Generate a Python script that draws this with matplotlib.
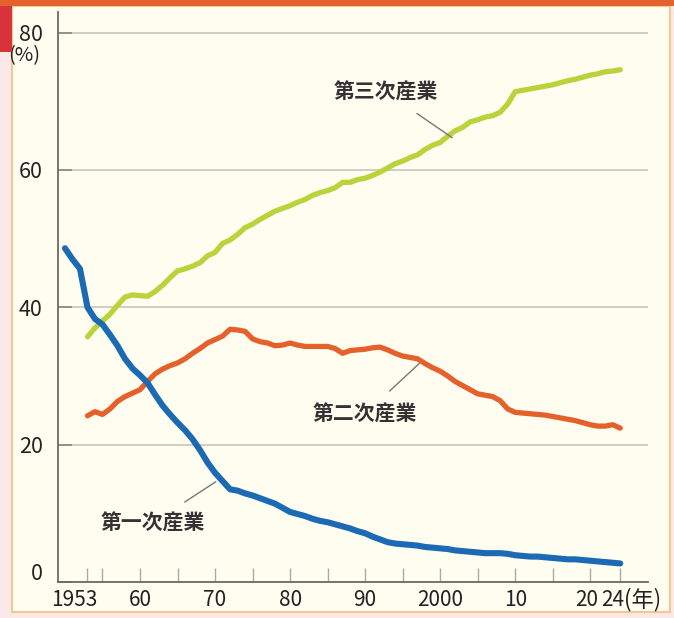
import matplotlib
matplotlib.use("Agg")
import matplotlib.pyplot as plt
import matplotlib.transforms as mtransforms
from matplotlib.patches import Rectangle

plt.rcParams['font.family'] = ['Noto Sans CJK JP', 'DejaVu Sans']

# 第一次産業 (starts 1950)
years_primary = list(range(1950, 2025))
primary = [48.6, 47.0, 45.6, 40.0, 38.3, 37.5, 36.0, 34.4, 32.5, 31.1,
           30.1, 29.0, 27.3, 25.7, 24.4, 23.2, 22.1, 20.8, 19.2, 17.4,
           15.9, 14.7, 13.5, 13.3, 12.9, 12.6, 12.2, 11.8, 11.4, 10.8,
           10.2, 9.9, 9.6, 9.2, 8.9, 8.7, 8.4, 8.1, 7.8, 7.4,
           7.1, 6.6, 6.2, 5.8, 5.6, 5.5, 5.4, 5.3, 5.1, 5.0,
           4.9, 4.8, 4.6, 4.5, 4.4, 4.3, 4.2, 4.2, 4.2, 4.1,
           3.9, 3.8, 3.7, 3.7, 3.6, 3.5, 3.4, 3.3, 3.3, 3.2,
           3.1, 3.0, 2.9, 2.8, 2.7]

years = list(range(1953, 2025))
# 第二次産業
secondary = [24.2, 24.8, 24.4, 25.2, 26.3, 27.0, 27.5,
             28.0, 29.2, 30.3, 31.0, 31.5, 31.9, 32.5, 33.3, 34.0, 34.8,
             35.3, 35.8, 36.8, 36.7, 36.5, 35.4, 35.0, 34.8, 34.4, 34.5,
             34.8, 34.5, 34.3, 34.3, 34.3, 34.3, 34.0, 33.3, 33.7, 33.8,
             33.9, 34.1, 34.2, 33.8, 33.3, 32.9, 32.7, 32.5, 31.8, 31.2,
             30.7, 30.0, 29.2, 28.6, 28.0, 27.4, 27.2, 27.0, 26.4, 25.2,
             24.7, 24.6, 24.5, 24.4, 24.3, 24.1, 23.9, 23.7, 23.5, 23.2,
             22.9, 22.7, 22.7, 22.9, 22.4]
# 第三次産業
tertiary = [35.7, 37.0, 38.0, 39.0, 40.3, 41.5, 41.8,
            41.7, 41.6, 42.3, 43.2, 44.3, 45.3, 45.6, 46.0, 46.5, 47.5,
            48.0, 49.3, 49.8, 50.6, 51.6, 52.1, 52.8, 53.4, 54.0, 54.4,
            54.8, 55.3, 55.7, 56.3, 56.7, 57.0, 57.4, 58.2, 58.2, 58.6,
            58.8, 59.2, 59.7, 60.3, 60.9, 61.3, 61.8, 62.2, 63.0, 63.6,
            64.0, 64.9, 65.7, 66.2, 67.0, 67.3, 67.7, 67.9, 68.4, 69.6,
            71.4, 71.6, 71.8, 72.0, 72.2, 72.4, 72.7, 73.0, 73.2, 73.5,
            73.8, 74.0, 74.3, 74.4, 74.6]

tick_years = [1953, 1955, 1960, 1965, 1970, 1975, 1980, 1985, 1990, 1995,
              2000, 2005, 2010, 2015, 2020, 2024]
tick_labels = ['1953', '', '60', '', '70', '', '80', '', '90', '',
               '2000', '', '10', '', '20', '24']
y_ticks = [0, 20, 40, 60, 80]

fig = plt.figure(figsize=(6.74, 6.18), dpi=100, facecolor='#fbe9ea')

# cream panel, red corner block and top strip
fig.add_artist(Rectangle((12 / 674, 1 - 612 / 618), 658 / 674, 606 / 618,
                         transform=fig.transFigure, facecolor='#fffdf0',
                         edgecolor='#f3c98f', lw=1.5, zorder=0))
fig.add_artist(Rectangle((0, 1 - 52 / 618), 12 / 674, 52 / 618,
                         transform=fig.transFigure, facecolor='#d8323b',
                         edgecolor='none', zorder=1))
fig.add_artist(Rectangle((0, 1 - 6 / 618), 1, 6 / 618,
                         transform=fig.transFigure, facecolor='#e5622f',
                         edgecolor='none', zorder=1))

ax = fig.add_axes([58 / 674, 1 - 582 / 618, 590 / 674, 570 / 618])
ax.set_facecolor('none')

ax.plot(years, tertiary, color='#b8d43a', lw=3.8, solid_capstyle='round',
        solid_joinstyle='round', zorder=3)
ax.plot(years, secondary, color='#e5612b', lw=3.8, solid_capstyle='round',
        solid_joinstyle='round', zorder=4)
ax.plot(years_primary, primary, color='#1c6ab4', lw=4.4, solid_capstyle='round',
        solid_joinstyle='round', zorder=5)

ax.set_xlim(1949.07, 2027.7)
ax.set_ylim(0, 83)

ax.set_yticks(y_ticks)
ax.set_yticklabels([str(v) for v in y_ticks])
ax.set_xticks(tick_years)
ax.set_xticklabels(tick_labels)
ax.grid(axis='y', color='#cfcabb', lw=1.3, zorder=1)

for s in ['top', 'right']:
    ax.spines[s].set_visible(False)
for s in ['left', 'bottom']:
    ax.spines[s].set_color('#6a6a6a')
    ax.spines[s].set_linewidth(1.3)

ax.tick_params(axis='x', direction='in', length=10, width=1, color='#aaaaaa',
               labelsize=15, pad=5, labelcolor='#222222')
ax.tick_params(axis='y', direction='in', length=10, width=1.2, color='#888888',
               labelsize=15.5, pad=11, labelcolor='#222222')

# nudge "1953", "20", "24" left and "0" up
def shift(label, dx, dy):
    label.set_transform(label.get_transform() +
                        mtransforms.ScaledTranslation(dx, dy, fig.dpi_scale_trans))

xlabs = ax.get_xticklabels()
shift(xlabs[0], -0.13, 0)
shift(xlabs[-2], -0.04, 0)
shift(xlabs[-1], -0.08, 0)
shift(ax.get_yticklabels()[0], 0, 0.10)

t = ax.text(-0.03, 80, '(%)', ha='right', va='top', fontsize=14.5,
            color='#222222', clip_on=False)
t.set_transform(ax.get_yaxis_transform() +
                mtransforms.ScaledTranslation(0, -0.125, fig.dpi_scale_trans))
t = ax.text(2024, 0, '(年)', ha='left', va='top', fontsize=16,
            color='#222222', clip_on=False)
t.set_transform(ax.transData +
                mtransforms.ScaledTranslation(0.035, -0.06, fig.dpi_scale_trans))

# labels with leader lines
for name, tip, pos in [('第三次産業', (2001.6, 64.7), (1992.8, 71.3)),
                       ('第二次産業', (1997.3, 31.9), (1990.0, 24.5)),
                       ('第一次産業', (1970.1, 14.6), (1961.7, 8.6))]:
    ax.annotate(name, xy=tip, xytext=pos, ha='center', va='center',
                fontsize=15, fontweight='bold', color='#333333',
                arrowprops=dict(arrowstyle='-', color='#777777', lw=1,
                                shrinkA=10, shrinkB=0))

fig.savefig('out.png', dpi=100, facecolor=fig.get_facecolor())
